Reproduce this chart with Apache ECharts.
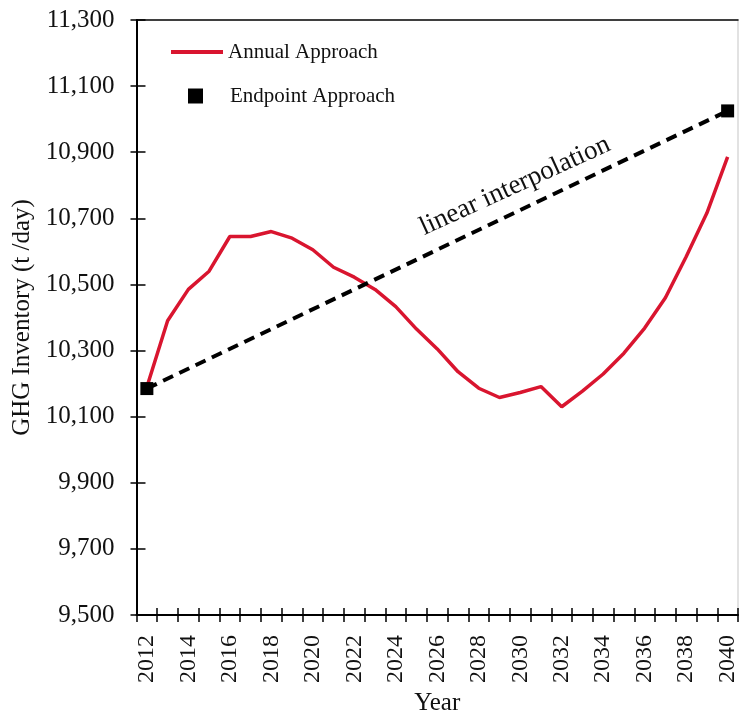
<!DOCTYPE html>
<html>
<head>
<meta charset="utf-8">
<script src="https://cdn.jsdelivr.net/npm/echarts@6/dist/echarts.min.js"></script>
<style>
html,body{margin:0;padding:0;background:#fff;}
#chart{width:739px;height:711px;}
</style>
</head>
<body>
<div id="chart"></div>
<script>
// ---- data ----
const years = ['2012','2013','2014','2015','2016','2017','2018','2019','2020','2021',
  '2022','2023','2024','2025','2026','2027','2028','2029','2030','2031',
  '2032','2033','2034','2035','2036','2037','2038','2039','2040'];
const annualApproach = [10190, 10390, 10485, 10540, 10645, 10645, 10660, 10640, 10605, 10552,
  10522, 10485, 10433, 10365, 10305, 10236, 10186, 10158, 10173, 10191,
  10130, 10177, 10229, 10292, 10368, 10460, 10584, 10716, 10886];
const endpointApproach = [10185, null, null, null, null, null, null, null, null, null,
  null, null, null, null, null, null, null, null, null, null,
  null, null, null, null, null, null, null, null, 11025];
const yTicks = { min: 9500, max: 11300, step: 200 };
const annotationText = 'linear interpolation';

const FONT = "'Liberation Serif', 'Times New Roman', serif";
const chart = echarts.init(document.getElementById('chart'));

const baseY = { type: 'value', min: yTicks.min, max: yTicks.max, interval: yTicks.step };

chart.setOption({
  animation: false,
  backgroundColor: '#fff',
  grid: { left: 136.5, right: 1, top: 20, bottom: 96, containLabel: false, outerBoundsMode: 'none' },
  legend: [
    {
      data: [{ name: 'Annual Approach', icon: 'rect', itemStyle: { color: '#d9152f' } }],
      left: 171, top: 40, padding: 0,
      itemWidth: 52, itemHeight: 4,
      textStyle: { fontFamily: FONT, fontSize: 21, color: '#111', lineHeight: 24 }
    },
    {
      data: [{ name: 'Endpoint Approach', icon: 'rect', itemStyle: { color: '#000' } }],
      left: 188, top: 84, padding: 0,
      itemWidth: 15, itemHeight: 15,
      textStyle: { fontFamily: FONT, fontSize: 21, color: '#111', lineHeight: 24, padding: [0, 0, 0, 22] }
    }
  ],
  xAxis: [
    {
      type: 'category', data: years, position: 'bottom', boundaryGap: true,
      axisLine: { lineStyle: { color: '#000', width: 2 } },
      axisTick: { show: true, interval: 0, length: 7, lineStyle: { color: '#000', width: 1.5 } },
      axisLabel: { interval: 1, rotate: 90, margin: 20, fontFamily: FONT, fontSize: 24, color: '#111' },
      name: 'Year', nameLocation: 'middle', nameGap: 64,
      nameTextStyle: { fontFamily: FONT, fontSize: 25, color: '#111' },
      splitLine: { show: false }
    },
    {
      type: 'category', data: years, position: 'bottom', boundaryGap: true,
      axisLine: { show: false },
      axisTick: { show: true, inside: true, interval: 0, length: 7, lineStyle: { color: '#000', width: 1.5 } },
      axisLabel: { show: false }, splitLine: { show: false }
    },
    {
      type: 'category', data: years, position: 'top', boundaryGap: true,
      axisLine: { show: true, lineStyle: { color: '#000', width: 1.5 } },
      axisTick: { show: false }, axisLabel: { show: false }, splitLine: { show: false }
    }
  ],
  yAxis: [
    Object.assign({}, baseY, {
      position: 'left',
      axisLine: { show: true, lineStyle: { color: '#000', width: 2 } },
      axisTick: { show: true, length: 6, lineStyle: { color: '#000', width: 1.5 } },
      axisLabel: { margin: 22, fontFamily: FONT, fontSize: 25, color: '#111',
        formatter: v => v.toLocaleString('en-US') },
      splitLine: { show: false },
      name: 'GHG Inventory (t /day)', nameLocation: 'middle', nameGap: 98, nameRotate: 90,
      nameTextStyle: { fontFamily: FONT, fontSize: 25, color: '#111' }
    }),
    Object.assign({}, baseY, {
      position: 'left',
      axisLine: { show: false },
      axisTick: { show: true, inside: true, length: 9, lineStyle: { color: '#000', width: 1.5 } },
      axisLabel: { show: false }, splitLine: { show: false }
    }),
    Object.assign({}, baseY, {
      position: 'right',
      axisLine: { show: true, lineStyle: { color: '#d8d8d8', width: 1.5 } },
      axisTick: { show: false }, axisLabel: { show: false }, splitLine: { show: false }
    })
  ],
  series: [
    {
      name: 'Annual Approach', type: 'line', data: annualApproach,
      xAxisIndex: 0, yAxisIndex: 0,
      showSymbol: false, symbol: 'none',
      lineStyle: { color: '#d9152f', width: 3.5 },
      itemStyle: { color: '#d9152f' }, z: 2
    },
    {
      name: 'Endpoint Approach', type: 'line', data: endpointApproach,
      xAxisIndex: 0, yAxisIndex: 0,
      connectNulls: true,
      symbol: 'rect', symbolSize: 13, showSymbol: true,
      lineStyle: { color: '#000', width: 4, type: [11, 7] },
      itemStyle: { color: '#000' }, z: 3
    }
  ],
  graphic: [
    {
      type: 'text', x: 515, y: 186, rotation: 24.5 * Math.PI / 180,
      style: { text: annotationText, fontFamily: FONT, fontSize: 27, fill: '#111',
        align: 'center', verticalAlign: 'middle' }
    }
  ]
});
</script>
</body>
</html>
